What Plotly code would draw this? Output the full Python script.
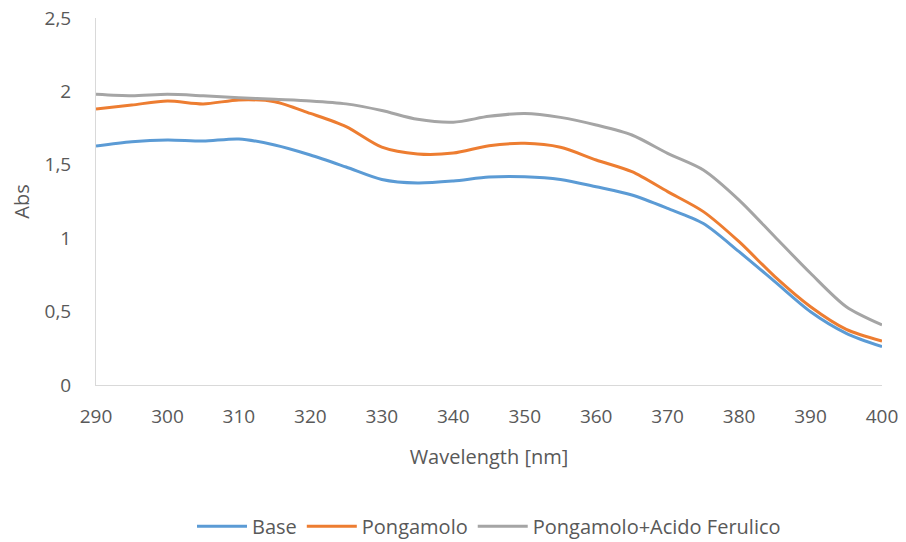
import plotly.graph_objects as go

wavelength = [290, 295, 300, 305, 310, 315, 320, 325, 330, 335, 340, 345, 350,
              355, 360, 365, 370, 375, 380, 385, 390, 395, 400]
base = [1.628, 1.657, 1.669, 1.662, 1.676, 1.635, 1.567, 1.485, 1.40, 1.376, 1.39, 1.417, 1.419,
        1.40, 1.35, 1.294, 1.203, 1.10, 0.908, 0.704, 0.499, 0.352, 0.261]
pongamolo = [1.88, 1.907, 1.935, 1.915, 1.942, 1.93, 1.85, 1.76, 1.62, 1.574, 1.58, 1.63, 1.646,
             1.619, 1.533, 1.453, 1.317, 1.181, 0.976, 0.738, 0.533, 0.379, 0.30]
pongamolo_af = [1.98, 1.97, 1.98, 1.97, 1.957, 1.946, 1.935, 1.915, 1.87, 1.81, 1.79, 1.83, 1.85,
                1.823, 1.771, 1.703, 1.578, 1.465, 1.26, 1.01, 0.761, 0.533, 0.409]

series = [("Base", base, "#5B9BD5"),
          ("Pongamolo", pongamolo, "#ED7D31"),
          ("Pongamolo+Acido Ferulico", pongamolo_af, "#A5A5A5")]

fig = go.Figure()
for name, vals, color in series:
    fig.add_trace(go.Scatter(x=wavelength, y=vals, name=name, mode="lines",
                             line=dict(color=color, width=3, shape="spline", smoothing=0.8)))

font = "Open Sans, Liberation Sans, sans-serif"
fig.update_layout(
    width=906, height=542,
    margin=dict(l=88, r=32, t=10, b=165, autoexpand=False),
    paper_bgcolor="white", plot_bgcolor="white",
    separators=",.",
    font=dict(family=font, color="#595959", size=18),
    xaxis=dict(range=[290, 400], dtick=10, tick0=290, showgrid=False, zeroline=False,
               showline=True, linecolor="#D9D9D9", linewidth=1,
               ticks="outside", ticklen=14, tickcolor="rgba(0,0,0,0)",
               ticklabeloverflow="allow",
               tickfont=dict(size=19, color="#595959"),
               title=dict(text="Wavelength [nm]", font=dict(size=20, color="#595959"), standoff=22)),
    yaxis=dict(range=[0, 2.5], dtick=0.5, showgrid=False, zeroline=False,
               showline=True, linecolor="#D9D9D9", linewidth=1,
               ticks="outside", ticklen=20, tickcolor="rgba(0,0,0,0)",
               ticklabeloverflow="allow",
               tickfont=dict(size=19, color="#595959"),
               title=dict(text="Abs", font=dict(size=20, color="#595959"), standoff=12)),
    legend=dict(orientation="h", x=0.5, xanchor="center", y=-0.385, yanchor="middle",
                font=dict(size=20, color="#595959"), itemwidth=50),
)

fig.write_html("out.html")
